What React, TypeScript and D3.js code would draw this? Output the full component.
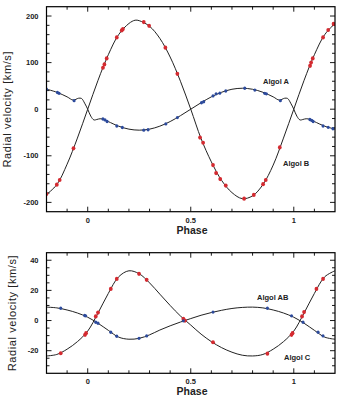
import React from "react";
import * as d3 from "d3";

// ---------- Top panel: Algol A / Algol B ----------
const topAPhase = [-0.2,-0.15,-0.1,-0.07,-0.045,-0.03,-0.015,0,0.015,0.03,0.045,0.06,0.08,0.1,0.15,0.2,0.25,0.3,0.35,0.4,0.45,0.5,0.55,0.6,0.65,0.7,0.75,0.8,0.85,0.9,0.93,0.955,0.97,0.985,1.0,1.015,1.03,1.045,1.06,1.08,1.1,1.15,1.2];
const topAVel =   [43,36.4,26.5,19.5,23.5,23,13,0,-15,-23,-22,-20.5,-22,-26.5,-36.4,-42.8,-45,-42.8,-36.4,-26.5,-13.9,0,13.9,26.5,36.4,42.8,45,42.8,36.4,26.5,19.5,23.5,23,13,0,-15,-23,-22,-20.5,-22,-26.5,-36.4,-42.8];

const topBPhase = [-0.2,-0.15,-0.1,-0.05,0,0.05,0.1,0.15,0.2,0.23,0.25,0.3,0.35,0.4,0.45,0.5,0.55,0.6,0.65,0.7,0.75,0.8,0.85,0.9,0.95,1.0,1.05,1.1,1.15,1.2];
const topBVel =   [-183,-162,-118,-62,0,62,117,160,184,191,190,178,152,112,60,0,-63,-113,-153,-179,-192,-186,-162,-120,-62,0,62,117,160,184];

const obsAPhase = [-0.2,-0.147,-0.139,-0.066,0.074,0.084,0.094,0.141,0.168,0.272,0.293,0.379,0.435,0.552,0.563,0.608,0.623,0.641,0.67,0.762,0.811,0.859,0.867,0.935,1.078,1.087,1.094,1.142,1.167,1.19];
const obsAVel =   [43,36,34,18.4,-21,-23,-26.5,-36,-39.4,-45,-44,-31.5,-18,14,16,28.5,33,34.5,39,45,41,34,33,18.4,-22,-24,-26.5,-36,-39,-42];

const obsBPhase = [-0.2,-0.15,-0.136,-0.069,0.074,0.081,0.092,0.141,0.165,0.171,0.272,0.298,0.377,0.435,0.545,0.56,0.608,0.623,0.643,0.67,0.759,0.806,0.851,0.864,0.932,1.079,1.084,1.092,1.142,1.167,1.193];
const obsBVel =   [-182,-162,-152,-84,89,96,109,154,169,172,187,179,132,76,-61,-72,-120,-137,-150,-164,-192,-184,-161,-152,-82,93,100,109,154,170,183];

// ---------- Bottom panel: Algol AB / Algol C ----------
const botABPhase = [-0.2,-0.15,-0.1,-0.05,0,0.05,0.1,0.15,0.2,0.25,0.3,0.35,0.4,0.45,0.5,0.55,0.6,0.65,0.7,0.75,0.8,0.85,0.9,0.95,1.0,1.05,1.1,1.15,1.2];
const botABVel =   [8.9,8.4,7,5,2.2,-1.8,-6.5,-11,-12.4,-11.8,-9.5,-6.3,-3.5,-1,1.3,3.5,5.3,6.8,8,8.7,8.9,8.4,7,5,2.2,-1.8,-6.5,-11,-12.4];

const botCPhase = [-0.2,-0.15,-0.1,-0.05,0,0.05,0.1,0.15,0.2,0.25,0.3,0.35,0.4,0.45,0.5,0.55,0.6,0.65,0.7,0.75,0.8,0.85,0.9,0.95,1.0,1.05,1.1,1.15,1.2];
const botCVel =   [-23.5,-22.5,-19,-14,-7,5,18,29,33,31,25,17.5,10,3,-3,-9,-14,-18,-21,-23,-23.5,-22.5,-19,-14,-7,5,18,29,33];

const obsABPhase = [-0.131,-0.015,-0.01,0.039,0.05,0.112,0.141,0.249,0.286,0.464,0.608,0.872,0.989,1.045,1.118,1.142];
const obsABVel =   [8.2,3.3,3.1,-1.1,-1.8,-7.8,-10.4,-11.8,-10.2,-0.2,5.6,8.2,3.1,-1.1,-7.8,-10.2];

const obsCPhase = [-0.131,-0.013,-0.008,0.039,0.05,0.112,0.141,0.249,0.286,0.464,0.472,0.608,0.872,0.989,0.994,1.04,1.05,1.11,1.142];
const obsCVel =   [-21.7,-9.5,-8.4,2.7,5.3,21,27.6,31,27,1.1,0,-14.4,-22,-9.5,-8.4,2.7,5.6,21,27.6];

const xMajor = [0, 0.5, 1];
const xMajorLabels = ["0", "0.5", "1"];
const topYMajor = [-200, -100, 0, 100, 200];
const botYMajor = [-20, 0, 20, 40];

const RED = "#d42a30";
const BLUE = "#2c4a9c";
const FONT = "'Liberation Sans', Arial, Helvetica, sans-serif";

const zip = (a: number[], b: number[]) => a.map((v, i) => [v, b[i]] as [number, number]);

function Panel(props: {
  top: number; bottom: number; yDomain: [number, number]; yMajor: number[]; yMinorStep: number;
  curves: { pts: [number, number][] }[];
  dots: { pts: [number, number][]; color: string; r: number }[];
  labels: { text: string; x: number; y: number }[];
  ylabelX: number;
}) {
  const L = 46.5, R = 335;
  const x = d3.scaleLinear().domain([-0.2, 1.2]).range([L, R]);
  const y = d3.scaleLinear().domain(props.yDomain).range([props.bottom, props.top]);
  const line = d3.line<[number, number]>().x(d => x(d[0])).y(d => y(d[1])).curve(d3.curveCatmullRom.alpha(0.5));
  const xMinor = d3.range(-0.2, 1.2001, 0.1).map(v => Math.round(v * 10) / 10).filter(v => v > -0.2 && v < 1.2);
  const yMinor = d3.range(props.yDomain[0], props.yDomain[1] + 0.001, props.yMinorStep).filter(v => v > props.yDomain[0] && v < props.yDomain[1]);
  const isMajorX = (v: number) => xMajor.some(m => Math.abs(m - v) < 1e-6);
  const isMajorY = (v: number) => props.yMajor.some(m => Math.abs(m - v) < 1e-6);
  const midY = (props.top + props.bottom) / 2;
  return (
    <g>
      <defs>
        <clipPath id={`clip${props.top}`}>
          <rect x={L} y={props.top} width={R - L} height={props.bottom - props.top} />
        </clipPath>
      </defs>
      {xMinor.map((v, i) => {
        const len = isMajorX(v) ? 5 : 3;
        return (
          <g key={"xt" + i} stroke="#000" strokeWidth={0.9}>
            <line x1={x(v)} x2={x(v)} y1={props.bottom} y2={props.bottom - len} />
            <line x1={x(v)} x2={x(v)} y1={props.top} y2={props.top + len} />
          </g>
        );
      })}
      {yMinor.map((v, i) => {
        const len = isMajorY(v) ? 5 : 3;
        return (
          <g key={"yt" + i} stroke="#000" strokeWidth={0.9}>
            <line x1={L} x2={L + len} y1={y(v)} y2={y(v)} />
            <line x1={R} x2={R - len} y1={y(v)} y2={y(v)} />
          </g>
        );
      })}
      <g clipPath={`url(#clip${props.top})`}>
        {props.curves.map((c, i) => (
          <path key={"c" + i} d={line(c.pts) || ""} fill="none" stroke="#222" strokeWidth={1} />
        ))}
        {props.dots.map((s, i) => s.pts.map((p, j) => (
          <ellipse key={`d${i}-${j}`} cx={x(p[0])} cy={y(p[1])} rx={s.r * 0.9} ry={s.r} fill={s.color} />
        )))}
      </g>
      <rect x={L} y={props.top} width={R - L} height={props.bottom - props.top} fill="none" stroke="#000" strokeWidth={1.2} />
      {xMajor.map((v, i) => (
        <text key={"xl" + i} x={x(v)} y={props.bottom + 11} textAnchor="middle" fontSize={7.5} fontWeight="bold" fontFamily={FONT} fill="#222">{xMajorLabels[i]}</text>
      ))}
      {props.yMajor.map((v, i) => (
        <text key={"yl" + i} x={L - 8} y={y(v) + 2.6} textAnchor="end" fontSize={7.5} fontWeight="bold" fontFamily={FONT} fill="#222">{v < 0 ? "-" + Math.abs(v) : String(v)}</text>
      ))}
      <text x={192} y={props.bottom + 22} textAnchor="middle" fontSize={10.5} fontWeight="bold" fontFamily={FONT} fill="#222">Phase</text>
      <text transform={`translate(${props.ylabelX},${midY}) rotate(-90)`} textAnchor="middle" fontSize={11} letterSpacing={0.6} fontFamily={FONT} fill="#222">Radial velocity [km/s]</text>
      {props.labels.map((l, i) => (
        <text key={"lb" + i} x={l.x} y={l.y} fontSize={7.5} fontWeight="bold" fontFamily={FONT} fill="#222">{l.text}</text>
      ))}
    </g>
  );
}

export default function App() {
  return (
    <svg width={343} height={400} style={{ display: "block", position: "absolute", left: 0, top: 0, background: "#fff" }}>
      <rect width={343} height={400} fill="#fff" />
      <Panel
        top={6.7} bottom={211.7} yDomain={[-220, 220]} yMajor={topYMajor} yMinorStep={20}
        curves={[{ pts: zip(topAPhase, topAVel) }, { pts: zip(topBPhase, topBVel) }]}
        dots={[{ pts: zip(obsBPhase, obsBVel), color: RED, r: 2.1 }, { pts: zip(obsAPhase, obsAVel), color: BLUE, r: 1.7 }]}
        labels={[{ text: "Algol A", x: 263, y: 84 }, { text: "Algol B", x: 283, y: 166 }]}
        ylabelX={11}
      />
      <Panel
        top={252.7} bottom={373.3} yDomain={[-35, 45]} yMajor={botYMajor} yMinorStep={5}
        curves={[{ pts: zip(botABPhase, botABVel) }, { pts: zip(botCPhase, botCVel) }]}
        dots={[{ pts: zip(obsCPhase, obsCVel), color: RED, r: 2.1 }, { pts: zip(obsABPhase, obsABVel), color: BLUE, r: 1.7 }]}
        labels={[{ text: "Algol AB", x: 257, y: 299.5 }, { text: "Algol C", x: 284, y: 359.5 }]}
        ylabelX={15.5}
      />
    </svg>
  );
}
